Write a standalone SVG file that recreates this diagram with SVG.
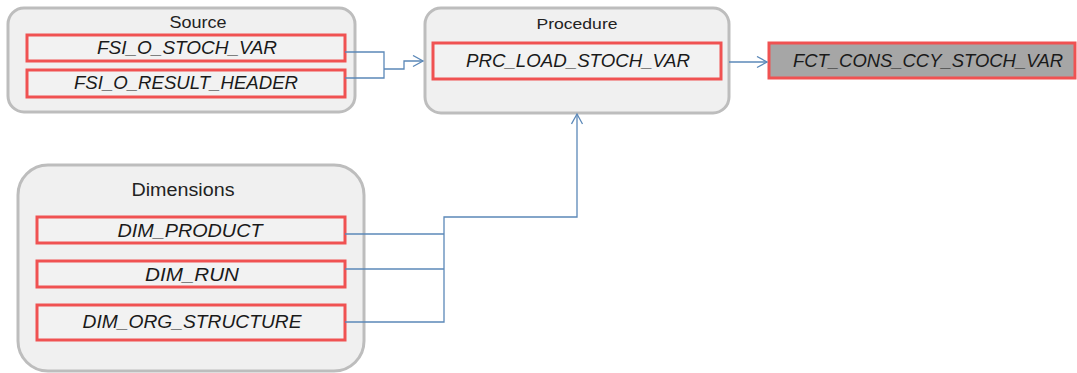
<svg xmlns="http://www.w3.org/2000/svg" width="1077" height="373" viewBox="0 0 1077 373">
<style>
.grp{fill:#f0f0f0;stroke:#bdbdbd;stroke-width:3}
.item{fill:#f2f2f2;stroke:#f05252;stroke-width:3}
.tgt{fill:#a6a6a6;stroke:#f05252;stroke-width:3}
.title{font-family:"Liberation Sans",Arial,sans-serif;fill:#222;text-anchor:middle}
.lbl{font-family:"Liberation Sans",Arial,sans-serif;font-style:italic;font-size:18px;fill:#1a1a1a;text-anchor:middle}
.conn{fill:none;stroke:#5b88b8;stroke-width:1.3}
</style>
<defs>
<marker id="arr" markerUnits="userSpaceOnUse" markerWidth="14" markerHeight="14" refX="11" refY="6" orient="auto">
<path d="M1,0.5 L11,6 L1,11.5" fill="none" stroke="#5b88b8" stroke-width="1.3"/>
</marker>
</defs>
<g id="source">
<rect class="grp" x="8" y="8" width="347" height="104" rx="16"/>
<text class="title" x="198" y="28" font-size="16" textLength="57" lengthAdjust="spacingAndGlyphs">Source</text>
</g>
<g id="fsi_o_stoch_var">
<rect class="item" x="27" y="35" width="318" height="26"/>
<text class="lbl" x="187" y="54" textLength="180" lengthAdjust="spacingAndGlyphs">FSI_O_STOCH_VAR</text>
</g>
<g id="fsi_o_result_header">
<rect class="item" x="27" y="70" width="318" height="27"/>
<text class="lbl" x="186" y="89" textLength="224" lengthAdjust="spacingAndGlyphs">FSI_O_RESULT_HEADER</text>
</g>
<g id="procedure">
<rect class="grp" x="425" y="8" width="304" height="105" rx="16"/>
<text class="title" x="577" y="29" font-size="15" textLength="81" lengthAdjust="spacingAndGlyphs">Procedure</text>
</g>
<g id="prc_load_stoch_var">
<rect class="item" x="433" y="43" width="288" height="36"/>
<text class="lbl" x="578" y="67" textLength="224" lengthAdjust="spacingAndGlyphs">PRC_LOAD_STOCH_VAR</text>
</g>
<g id="fct_cons_ccy_stoch_var">
<rect class="tgt" x="769" y="43" width="306" height="35"/>
<text class="lbl" x="928" y="67" textLength="270" lengthAdjust="spacingAndGlyphs">FCT_CONS_CCY_STOCH_VAR</text>
</g>
<g id="dimensions">
<rect class="grp" x="18" y="165" width="346" height="206" rx="30"/>
<text class="title" x="183" y="196" font-size="18" textLength="103" lengthAdjust="spacingAndGlyphs">Dimensions</text>
</g>
<g id="dim_product">
<rect class="item" x="37" y="217" width="308" height="26"/>
<text class="lbl" x="190" y="237" textLength="145" lengthAdjust="spacingAndGlyphs">DIM_PRODUCT</text>
</g>
<g id="dim_run">
<rect class="item" x="37" y="261" width="308" height="26"/>
<text class="lbl" x="192" y="281" textLength="94" lengthAdjust="spacingAndGlyphs">DIM_RUN</text>
</g>
<g id="dim_org_structure">
<rect class="item" x="37" y="305" width="308" height="35"/>
<text class="lbl" x="192" y="328" textLength="219" lengthAdjust="spacingAndGlyphs">DIM_ORG_STRUCTURE</text>
</g>
<g id="connectors">
<path class="conn" d="M345,52 H384 V78 H345"/>
<path class="conn" d="M384,69 H404 V61 H423" marker-end="url(#arr)"/>
<path class="conn" d="M729,62 H767" marker-end="url(#arr)"/>
<path class="conn" d="M345,234 H444"/>
<path class="conn" d="M345,269 H444"/>
<path class="conn" d="M345,322 H444 V217 H577 V114" marker-end="url(#arr)"/>
</g>
</svg>
